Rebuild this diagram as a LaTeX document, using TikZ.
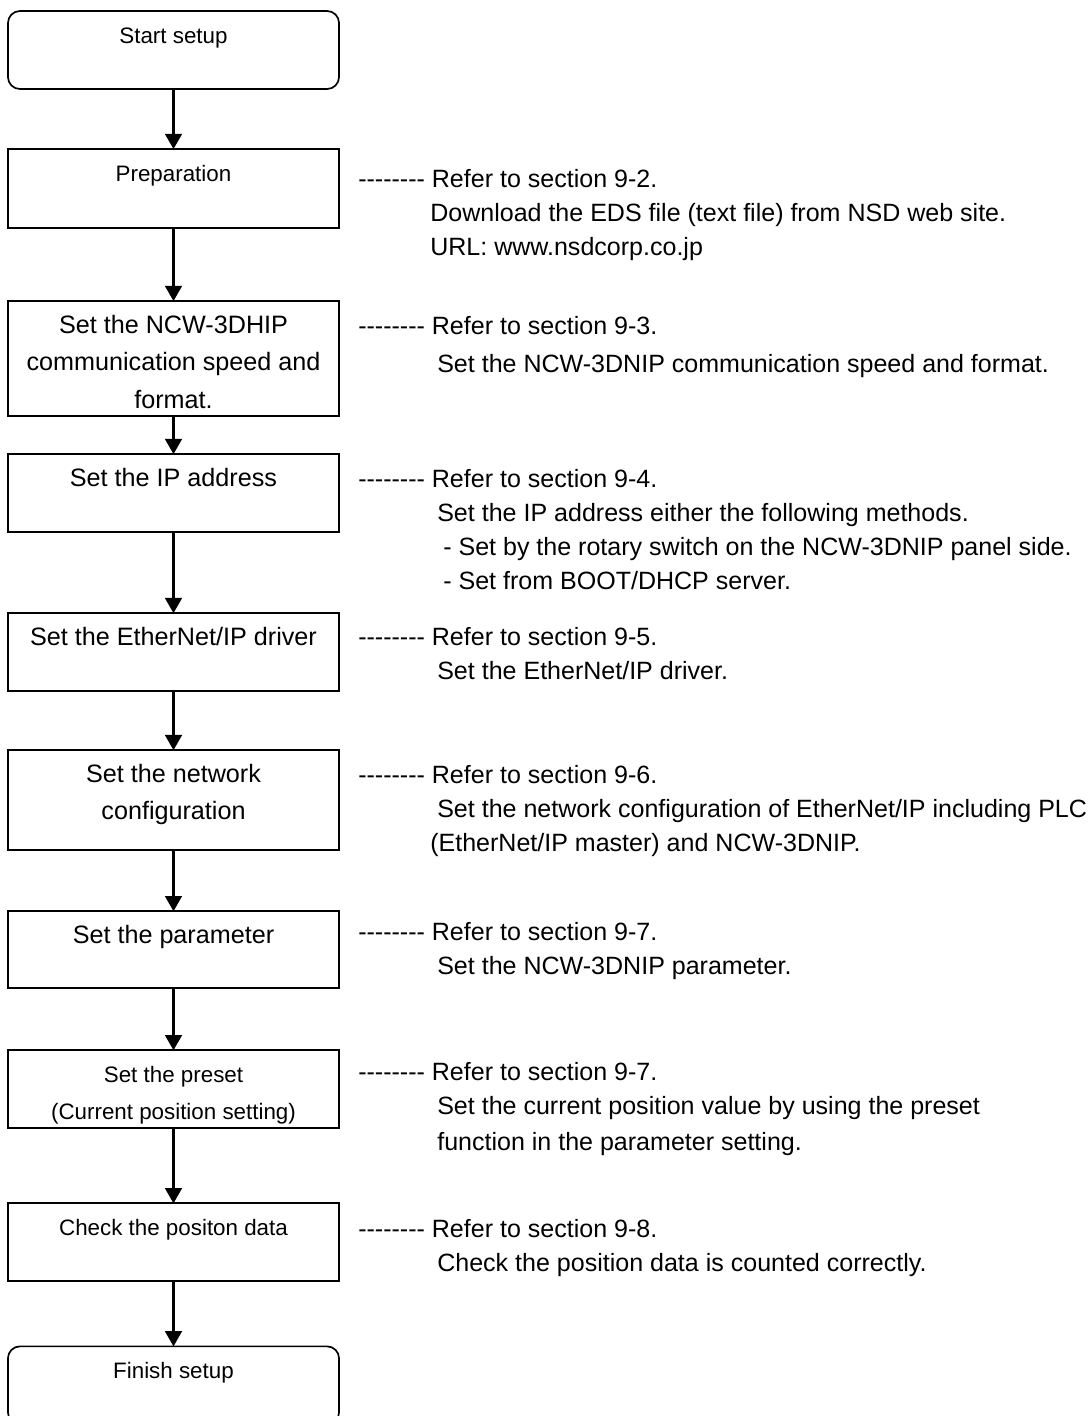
\documentclass[tikz,border=0pt]{standalone}
\usepackage{fontspec}
\setmainfont{Liberation Sans}[Ligatures=TeXOff]
\usepackage{tikz}
\usetikzlibrary{arrows.meta, positioning}
\newcommand{\bigtext}{\fontsize{17.9pt}{26.7pt}\selectfont}
\newcommand{\smalltext}{\fontsize{15.9pt}{26.3pt}\selectfont}
\newcommand{\notetext}{\fontsize{17.8pt}{24.2pt}\selectfont}
\newcommand{\dashes}{--------}
% box text sits at the top of the box
\newcommand{\boxlines}[3]{\parbox[c][#1][t]{8.275cm}{\centering#2\rule{0pt}{0.8cm}#3}}

\begin{document}
\begin{tikzpicture}[x=0.025cm, y=-0.025cm,
    stepbox/.style={draw, line width=1.2pt, inner sep=0pt, outer sep=0pt},
    endbox/.style={stepbox, rounded corners=0.3cm},
    flow/.style={-{Triangle[length=0.38cm, width=0.42cm]}, line width=1.5pt},
    note/.style={anchor=north west, align=left, inner sep=0pt, font=\notetext}]
        \clip (0,0) rectangle (1088,1416);

        \node[endbox, anchor=north] (start) at (173.5,11) {\boxlines{1.95cm}{\smalltext}{Start setup}};
        \node[stepbox, below=1.5cm of start] (prep) {\boxlines{1.975cm}{\smalltext}{Preparation}};
        \node[stepbox, below=1.825cm of prep] (speed) {\boxlines{2.875cm}{\bigtext}{Set the NCW-3DHIP\\communication speed and\\format.}};
        \node[stepbox, below=0.95cm of speed] (ipaddr) {\boxlines{1.95cm}{\bigtext}{Set the IP address}};
        \node[stepbox, below=2.025cm of ipaddr] (driver) {\boxlines{1.95cm}{\bigtext}{Set the EtherNet/IP driver}};
        \node[stepbox, below=1.475cm of driver] (netcfg) {\boxlines{2.5cm}{\bigtext}{Set the network\\configuration}};
        \node[stepbox, below=1.525cm of netcfg] (param) {\boxlines{1.925cm}{\bigtext}{Set the parameter}};
        \node[stepbox, below=1.55cm of param] (preset) {\boxlines{1.95cm}{\smalltext}{Set the preset\\(Current position setting)}};
        \node[stepbox, below=1.875cm of preset] (check) {\boxlines{1.95cm}{\smalltext}{Check the positon data}};
        \node[endbox, below=1.625cm of check] (finish) {\boxlines{1.95cm}{\smalltext}{Finish setup}};

        \draw[flow] (start) -- (prep);
        \draw[flow] (prep) -- (speed);
        \draw[flow] (speed) -- (ipaddr);
        \draw[flow] (ipaddr) -- (driver);
        \draw[flow] (driver) -- (netcfg);
        \draw[flow] (netcfg) -- (param);
        \draw[flow] (param) -- (preset);
        \draw[flow] (preset) -- (check);
        \draw[flow] (check) -- (finish);

        % notes on the right
        \node[note] (prepnote) at (358,169) {\dashes\ Refer to section 9-2.\\
            \hspace*{1.8cm}Download the EDS file (text file) from NSD web site.\\
            \hspace*{1.8cm}URL: www.nsdcorp.co.jp};
        \node[note] (speednote) at (358,316) {\dashes\ Refer to section 9-3.\\[0.1cm]
            \hspace*{1.975cm}Set the NCW-3DNIP communication speed and format.};
        \node[note] (ipnote) at (358,469) {\dashes\ Refer to section 9-4.\\
            \hspace*{1.975cm}Set the IP address either the following methods.\\
            \hspace*{2.125cm}- Set by the rotary switch on the NCW-3DNIP panel side.\\
            \hspace*{2.125cm}- Set from BOOT/DHCP server.};
        \node[note] (drivernote) at (358,627) {\dashes\ Refer to section 9-5.\\
            \hspace*{1.975cm}Set the EtherNet/IP driver.};
        \node[note] (netnote) at (358,765) {\dashes\ Refer to section 9-6.\\
            \hspace*{1.975cm}Set the network configuration of EtherNet/IP including PLC\\
            \hspace*{1.8cm}(EtherNet/IP master) and NCW-3DNIP.};
        \node[note] (paramnote) at (358,922) {\dashes\ Refer to section 9-7.\\
            \hspace*{1.975cm}Set the NCW-3DNIP parameter.};
        \node[note] (presetnote) at (358,1062) {\dashes\ Refer to section 9-7.\\
            \hspace*{1.975cm}Set the current position value by using the preset\\[0.05cm]
            \hspace*{1.975cm}function in the parameter setting.};
        \node[note] (checknote) at (358,1219) {\dashes\ Refer to section 9-8.\\
            \hspace*{1.975cm}Check the position data is counted correctly.};
    \end{tikzpicture}
\end{document}
